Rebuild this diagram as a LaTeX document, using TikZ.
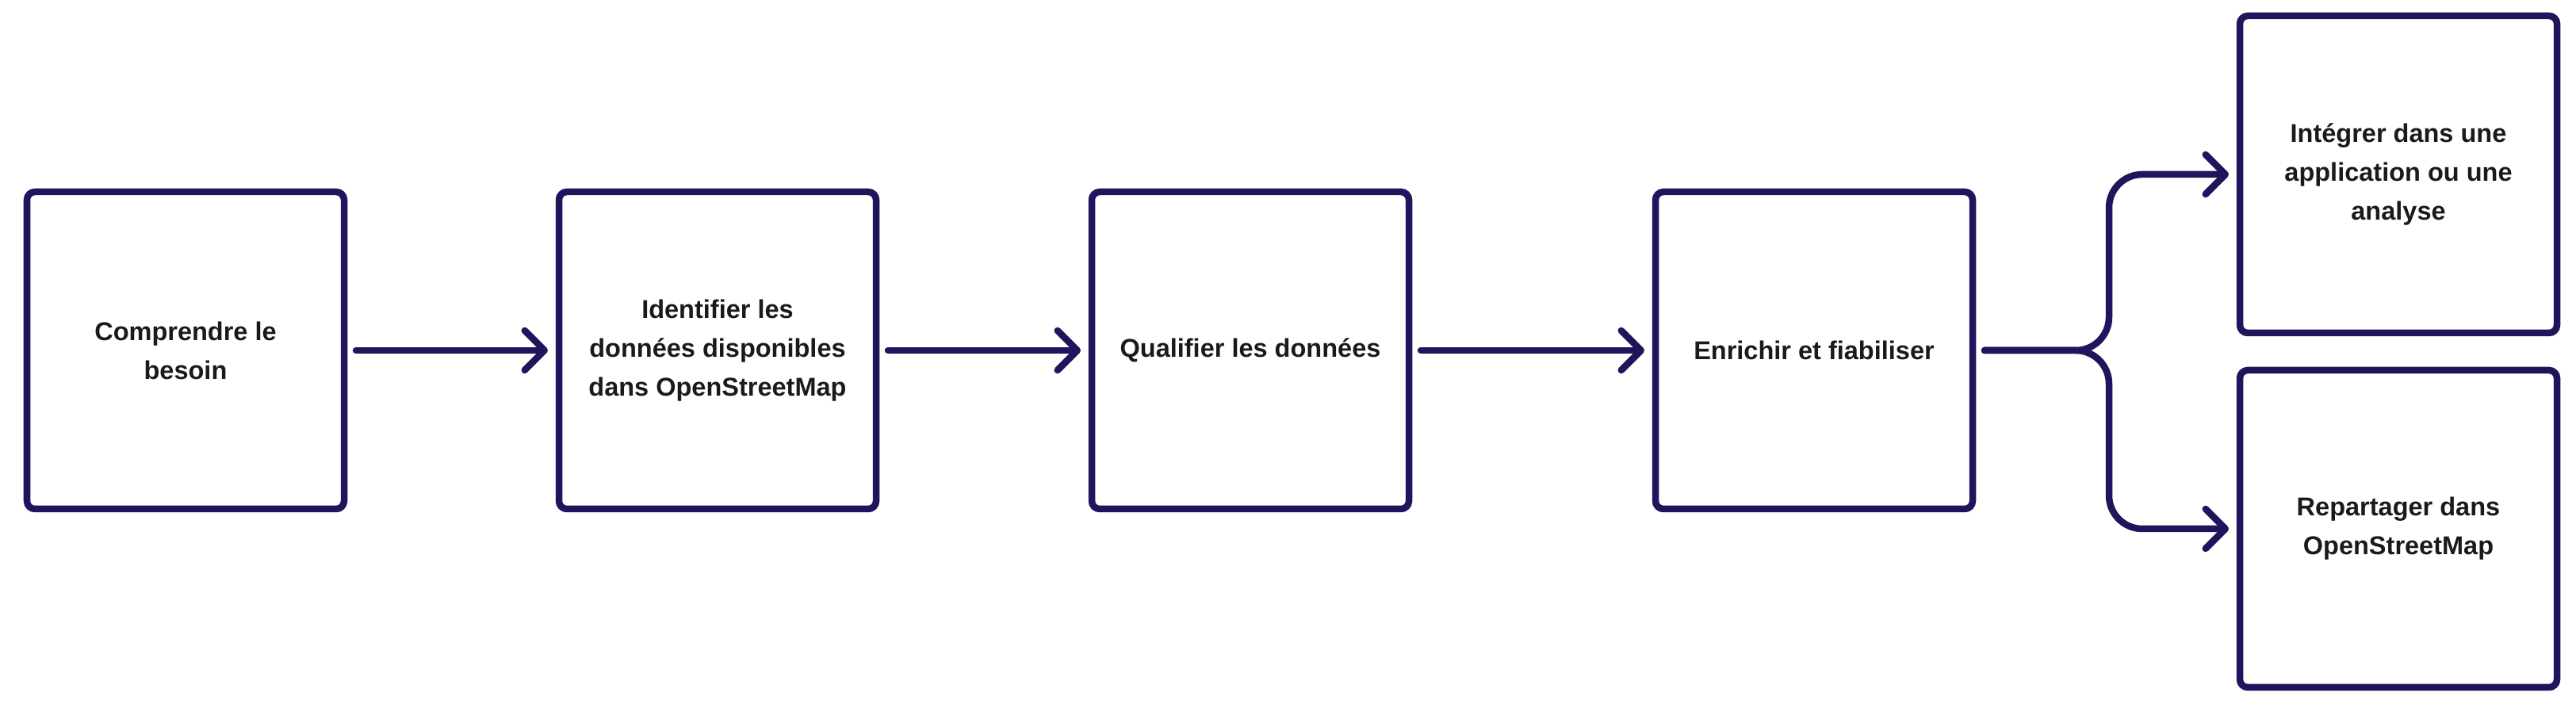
\documentclass[tikz,border=0pt]{standalone}
\usepackage{fontspec}
\setmainfont{Liberation Sans}
\usepackage{tikz}
\usetikzlibrary{arrows.meta}

\definecolor{ink}{RGB}{33,19,92}
\definecolor{txt}{RGB}{26,26,26}

\begin{document}
\begin{tikzpicture}[
            stage/.style = {rectangle, draw=ink, line width=0.085cm, rounded corners=0.1cm,
                            minimum width=4cm, minimum height=4cm, outer sep=0pt, align=center,
                            text=txt, font=\fontsize{9.25}{13.9}\selectfont\bfseries},
            outcome/.style = {stage},
            arr/.style = {draw=ink, line width=0.085cm, line cap=round,
                          -{Straight Barb[round, length=0.25cm, width=0.5cm]},
                          shorten <=0.15cm, shorten >=0.14cm},
        ]
            \useasboundingbox (0,0) rectangle (32.49,8.93);

            % Steps
            \node[stage] (besoin) at (2.34,4.51) {Comprendre le\\besoin};
            \node[stage] (identifier) at (9.05,4.51) {Identifier les\\données disponibles\\dans OpenStreetMap};
            \node[stage] (qualifier) at (15.77,4.51) {Qualifier les données};
            \node[stage] (enrichir) at (22.88,4.51) {Enrichir et fiabiliser};

            % Outcomes (above/below)
            \node[outcome] (integrer) at (30.25,6.73) {Intégrer dans une\\application ou une\\analyse};
            \node[outcome] (repartager) at (30.25,2.26) {Repartager dans\\OpenStreetMap};

            % Step transitions
            \draw[arr] (besoin) -- (identifier);
            \draw[arr] (identifier) -- (qualifier);
            \draw[arr] (qualifier) -- (enrichir);

            % Fork to outcomes
            \coordinate (fork) at (26.60,4.51);
            \draw[arr, rounded corners=0.42cm] (enrichir.east) -- (fork) |- (integrer.west);
            \draw[arr, rounded corners=0.42cm] (enrichir.east) -- (fork) |- (repartager.west);

        \end{tikzpicture}
\end{document}
